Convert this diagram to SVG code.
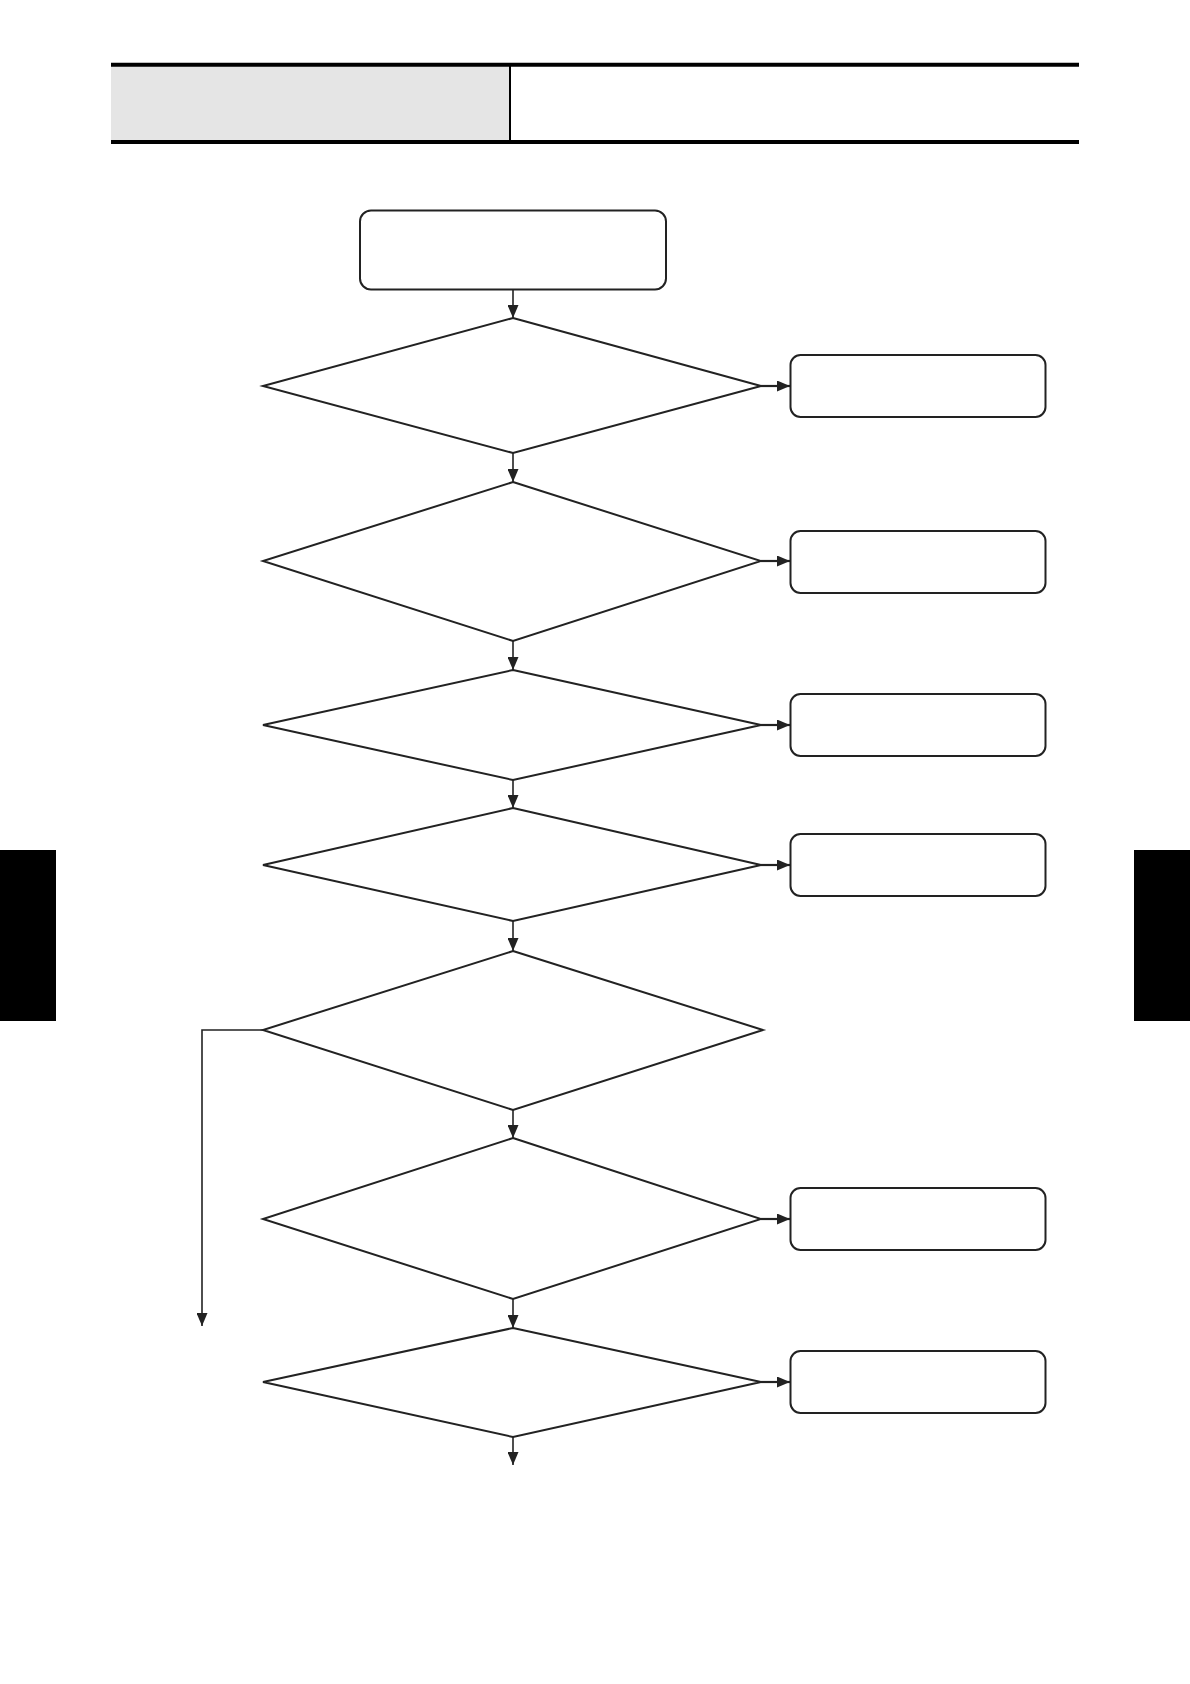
<svg xmlns="http://www.w3.org/2000/svg" width="1190" height="1684" viewBox="0 0 1190 1684">
<style>
.node{fill:#fff;stroke:#222;stroke-width:2}
.conn{fill:none;stroke:#222;stroke-width:1.6}
.hconn{fill:none;stroke:#222;stroke-width:2.2}
.tab{fill:#000}
</style>
<defs>
<marker id="ah" markerWidth="13" markerHeight="11" refX="13" refY="5.5" orient="auto" markerUnits="userSpaceOnUse">
<path d="M0,0 L13,5.5 L0,11 Z" fill="#222"/>
</marker>
</defs>
<rect width="1190" height="1684" fill="#fff"/>
<g id="header">
<rect x="111" y="66" width="398" height="75" fill="#e5e5e5"/>
<line x1="111" y1="64.7" x2="1079" y2="64.7" stroke="#000" stroke-width="4"/>
<line x1="111" y1="142" x2="1079" y2="142" stroke="#000" stroke-width="4"/>
<line x1="510" y1="66" x2="510" y2="140" stroke="#000" stroke-width="2"/>
</g>
<g id="tab-left"><rect class="tab" x="0" y="850" width="56" height="171"/></g>
<g id="tab-right"><rect class="tab" x="1134" y="850" width="56" height="171"/></g>
<g id="start"><rect class="node" x="360" y="210.5" width="306" height="79" rx="11"/></g>
<g id="d1"><polygon class="node" points="513,318 761,386 513,453 263,386"/></g>
<g id="d2"><polygon class="node" points="513,482 761,561 513,641 263,561"/></g>
<g id="d3"><polygon class="node" points="513,670 761,725 513,780 263,725"/></g>
<g id="d4"><polygon class="node" points="513,808 761,865 513,921 263,865"/></g>
<g id="d5"><polygon class="node" points="513,951 763,1030 513,1110 263,1030"/></g>
<g id="d6"><polygon class="node" points="513,1138 761,1219 513,1299 263,1219"/></g>
<g id="d7"><polygon class="node" points="513,1328 761,1382 513,1437 263,1382"/></g>
<g id="b1"><rect class="node" x="790.5" y="355" width="255" height="62" rx="10"/></g>
<g id="b2"><rect class="node" x="790.5" y="531" width="255" height="62" rx="10"/></g>
<g id="b3"><rect class="node" x="790.5" y="694" width="255" height="62" rx="10"/></g>
<g id="b4"><rect class="node" x="790.5" y="834" width="255" height="62" rx="10"/></g>
<g id="b6"><rect class="node" x="790.5" y="1188" width="255" height="62" rx="10"/></g>
<g id="b7"><rect class="node" x="790.5" y="1351" width="255" height="62" rx="10"/></g>
<g id="connectors">
<line class="conn" x1="513" y1="290" x2="513" y2="318" marker-end="url(#ah)"/>
<line class="conn" x1="513" y1="453" x2="513" y2="482" marker-end="url(#ah)"/>
<line class="conn" x1="513" y1="641" x2="513" y2="670" marker-end="url(#ah)"/>
<line class="conn" x1="513" y1="780" x2="513" y2="808" marker-end="url(#ah)"/>
<line class="conn" x1="513" y1="921" x2="513" y2="951" marker-end="url(#ah)"/>
<line class="conn" x1="513" y1="1110" x2="513" y2="1138" marker-end="url(#ah)"/>
<line class="conn" x1="513" y1="1299" x2="513" y2="1328" marker-end="url(#ah)"/>
<line class="conn" x1="513" y1="1437" x2="513" y2="1465" marker-end="url(#ah)"/>
<line class="hconn" x1="761" y1="386" x2="790" y2="386" marker-end="url(#ah)"/>
<line class="hconn" x1="761" y1="561" x2="790" y2="561" marker-end="url(#ah)"/>
<line class="hconn" x1="761" y1="725" x2="790" y2="725" marker-end="url(#ah)"/>
<line class="hconn" x1="761" y1="865" x2="790" y2="865" marker-end="url(#ah)"/>
<line class="hconn" x1="761" y1="1219" x2="790" y2="1219" marker-end="url(#ah)"/>
<line class="hconn" x1="761" y1="1382" x2="790" y2="1382" marker-end="url(#ah)"/>
<polyline class="conn" points="263,1030 202,1030 202,1326" marker-end="url(#ah)"/>
</g>
</svg>
